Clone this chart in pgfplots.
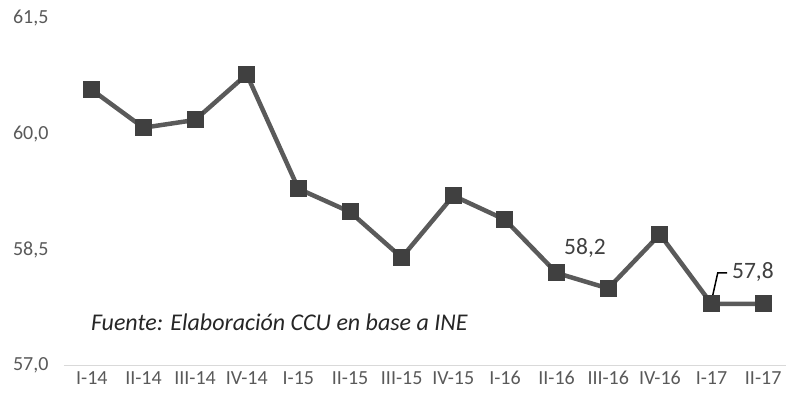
\documentclass[border=0pt]{standalone}
\usepackage{pgfplots}
\pgfplotsset{compat=1.18}
\usepackage{fontspec}
\setmainfont{Carlito}
\definecolor{linegray}{HTML}{5A5A5A}
\definecolor{markgray}{HTML}{404040}
\definecolor{ticktext}{HTML}{595959}
\definecolor{axisgray}{HTML}{D9D9D9}
\begin{document}
\begin{tikzpicture}
\begin{axis}[
  scale only axis,
  width=723pt, height=348pt,
  xmin=-0.54, xmax=13.45,
  ymin=57, ymax=61.5,
  ytick={57,58.5,60,61.5},
  xtick={0,...,13},
  xticklabels={I-14,II-14,III-14,IV-14,I-15,II-15,III-15,IV-15,I-16,II-16,III-16,IV-16,I-17,II-17},
  axis line style={draw=none},
  axis x line*=bottom,
  axis y line*=left,
  major tick length=0pt,
  tick style={draw=none},
  /pgf/number format/assume math mode=true,
  /pgf/number format/use comma,
  /pgf/number format/fixed,
  /pgf/number format/fixed zerofill,
  /pgf/number format/precision=1,
  yticklabel style={font=\fontsize{20}{23}\selectfont, text=ticktext, anchor=east, xshift=-12pt},
  xticklabel style={font=\fontsize{20}{23}\selectfont, text=ticktext, yshift=-2pt},
  clip=false,
]
\draw[axisgray, line width=1.2pt] (axis cs:-0.54,57) -- (axis cs:13.45,57);
\addplot[linegray, line width=4.5pt, mark=square*, mark size=8pt,
  mark options={fill=markgray, draw=markgray, line width=0pt}]
  coordinates {
  (0,60.57) (1,60.08) (2,60.18) (3,60.77) (4,59.29) (5,58.99) (6,58.4)
  (7,59.2) (8,58.89) (9,58.2) (10,58.0) (11,58.7) (12,57.8) (13,57.8)
  };
\node[font=\fontsize{23.5}{27}\selectfont, text=markgray] at (axis cs:9.55,58.52) {58,2};
\draw[black, line width=1.5pt] (axis cs:12,57.84) -- (axis cs:12.12,58.2) -- (axis cs:12.3,58.2);
\node[font=\fontsize{23.5}{27}\selectfont, text=markgray, anchor=west] at (axis cs:12.33,58.21) {57,8};
\node[font=\fontsize{24}{28}\selectfont\itshape, text=black!85, anchor=west, inner sep=0pt] at (axis cs:-0.02,57.56) {Fuente: Elaboración CCU en base a INE};
\end{axis}
\path (-64pt,-35pt) rectangle (723pt,366pt);
\end{tikzpicture}
\end{document}
